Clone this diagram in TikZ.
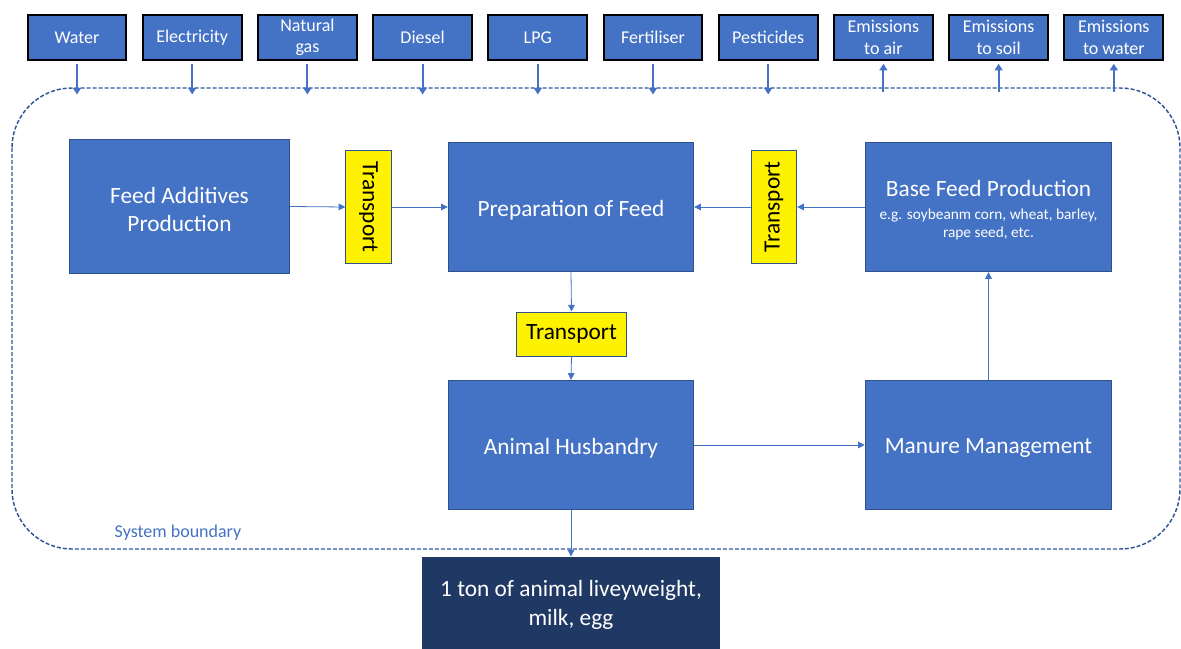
\documentclass[tikz,border=0pt]{standalone}
\usepackage{fontspec}
\setmainfont{Carlito}
\usetikzlibrary{arrows.meta}
\definecolor{offblue}{HTML}{4472C4}
\definecolor{offborder}{HTML}{2F528F}
\definecolor{offdark}{HTML}{203864}
\definecolor{bndcol}{HTML}{2F5597}
\newcommand{\subfnt}{\fontsize{11.5}{13.5}\selectfont}
\newcommand{\dnstrut}{\rule{0pt}{16.5pt}}
\tikzset{
  topbox/.style={draw=black, line width=1.5pt, fill=offblue, text=white,
    minimum width=74pt, minimum height=34pt, inner sep=0pt, align=center,
    font=\fontsize{13.5}{16}\selectfont},
  mainbox/.style={draw=offborder, line width=0.75pt, fill=offblue, text=white,
    inner sep=0pt, align=center, font=\fontsize{17.5}{21}\selectfont},
  transbox/.style={draw=offborder, line width=0.75pt, fill=yellow, text=black,
    inner sep=0pt, align=center, font=\fontsize{17.5}{20}\selectfont},
  outbox/.style={draw=offdark, line width=0.75pt, fill=offdark, text=white,
    inner sep=0pt, align=center, font=\fontsize{17.5}{22}\selectfont},
  flow/.style={draw=offblue, line width=0.6pt, -{Triangle[length=5pt,width=5pt]}},
  ioarrow/.style={draw=offblue, line width=1.5pt, -{Triangle[length=5pt,width=6pt]}},
}
\begin{document}
\begin{tikzpicture}[x=0.75pt, y=-0.75pt]
\useasboundingbox (0,0) rectangle (1181,649);
\clip (0,0) rectangle (1181,649);
% system boundary
\draw[bndcol, line width=1.1pt, dash pattern=on 3pt off 1.5pt, rounded corners=45pt]
  (12,88) rectangle (1180,549);
\node[text=offblue, font=\fontsize{13.5}{15}\selectfont, anchor=west] (sb) at (110,533) {System boundary};
% top boxes
\foreach \i/\t [count=\k from 0] in {water/Water, elec/Electricity, gas/{Natural\\gas}, diesel/Diesel, lpg/LPG, fert/Fertiliser, pest/Pesticides, air/{Emissions\\to air}, soil/{Emissions\\to soil}, wat/{Emissions\\to water}}{
  \node[topbox] (\i) at ({77+115.2*\k},37.5) {\t};
}
% input arrows
\foreach \i in {water, elec, gas, diesel, lpg, fert, pest}{
  \coordinate (\i e) at ([yshift=-25pt]\i.south);
  \draw[ioarrow] ([yshift=-2pt]\i.south) -- (\i e);
}
% emission arrows
\foreach \i in {air, soil, wat}{
  \coordinate (\i s) at ([yshift=-23pt]\i.south);
  \draw[ioarrow] (\i s) -- ([yshift=-2pt]\i.south);
}
% main boxes
\node[mainbox, minimum width=165pt, minimum height=100pt] (fap) at (179.5,206.5) {\dnstrut Feed Additives\\Production};
\node[transbox, minimum width=84pt, minimum height=34pt, rotate=-90] (t1) at (368.5,207) {Transport};
\node[mainbox, minimum width=184pt, minimum height=97pt] (pof) at (571,207) {\dnstrut Preparation of Feed};
\node[transbox, minimum width=84pt, minimum height=34pt, rotate=90] (t2) at (774,207) {Transport};
\node[mainbox, minimum width=185pt, minimum height=97pt] (bfp) at (988.5,207)
  {\rule{0pt}{19pt}Base Feed Production\\[-4pt]\subfnt\begin{tabular}[t]{@{}c@{}}e.g. soybeanm corn, wheat, barley,\\rape seed, etc.\end{tabular}};
\node[transbox, minimum width=83pt, minimum height=33pt] (t3) at (571.5,334) {Transport};
\node[mainbox, minimum width=184pt, minimum height=97pt] (ah) at (571,445) {\dnstrut Animal Husbandry};
\node[mainbox, minimum width=185pt, minimum height=97pt] (mm) at (988.5,445) {\dnstrut Manure Management};
\node[outbox, minimum width=223pt, minimum height=72pt] (out) at (571,605) {1 ton of animal liveyweight,\\milk, egg};
% flows
\draw[flow] (fap.east) -- (t1.south);
\draw[flow] (t1.north) -- (pof.west);
\draw[flow] (bfp.west) -- (t2.south);
\draw[flow] (t2.north) -- (pof.east);
\draw[flow] (pof.south) -- (t3.north);
\draw[flow] (t3.south) -- (ah.north);
\draw[flow] (ah.east) -- (mm.west);
\draw[flow] (mm.north) -- (bfp.south);
\draw[flow] (ah.south) -- (out.north);
\end{tikzpicture}
\end{document}
